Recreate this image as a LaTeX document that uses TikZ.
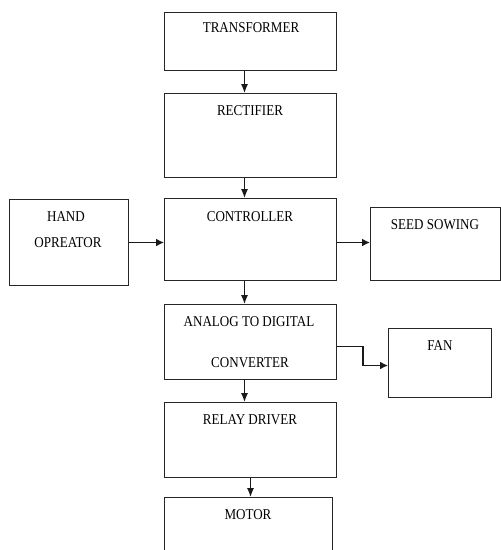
\documentclass[tikz,border=0pt]{standalone}
\usepackage{fontspec}
\setmainfont{Liberation Serif}[FakeStretch=0.87]
\usetikzlibrary{arrows.meta}
\begin{document}
\begin{tikzpicture}[x=1pt,y=-1pt,
  box/.style={draw=black!85, line width=1pt, anchor=north west, inner sep=0pt},
  lbl/.style={font=\fontsize{15}{17}\selectfont, inner sep=0pt, text=black},
  arr/.style={draw=black!90, line width=1.2pt, -{Latex[length=9pt,width=7pt]}},
  harr/.style={arr, line width=1.8pt, -{Latex[length=8pt,width=8pt]}}]
\useasboundingbox (0,0) rectangle (501,550);
\clip (0,0) rectangle (501,550);
\fill[white] (0,0) rectangle (501,550);
% boxes
\node[box, minimum width=172pt, minimum height=58pt] (T) at (164,12) {};
\node[box, minimum width=172pt, minimum height=84pt] (R) at (164,93) {};
\node[box, minimum width=172pt, minimum height=82pt] (C) at (164,198) {};
\node[box, minimum width=119pt, minimum height=86pt] (H) at (9,199) {};
\node[box, minimum width=130pt, minimum height=73pt] (S) at (370,207) {};
\node[box, minimum width=172pt, minimum height=75pt] (A) at (164,304) {};
\node[box, minimum width=103pt, minimum height=69pt] (F) at (388,328) {};
\node[box, minimum width=172pt, minimum height=75pt] (D) at (164,402) {};
\node[box, minimum width=168pt, minimum height=70pt] (M) at (164,497) {};
% labels
\node[lbl] (tT) at (251,28) {TRANSFORMER};
\node[lbl] (tR) at (250,111) {RECTIFIER};
\node[lbl] (tC) at (250,217) {CONTROLLER};
\node[lbl] (tH1) at (66,217) {HAND};
\node[lbl] (tH2) at (68,243) {OPREATOR};
\node[lbl] (tS) at (435,225) {SEED SOWING};
\node[lbl] (tA1) at (249,322) {ANALOG TO DIGITAL};
\node[lbl] (tA2) at (250,363) {CONVERTER};
\node[lbl] (tF) at (440,346) {FAN};
\node[lbl] (tD) at (250,420) {RELAY DRIVER};
\node[lbl] (tM) at (248,515) {MOTOR};
% connectors
\draw[arr] ([xshift=-6pt]T.south) -- ([xshift=-6pt]R.north);
\draw[arr] ([xshift=-6pt]R.south) -- ([xshift=-6pt]C.north);
\draw[arr] ([xshift=-6pt]C.south) -- ([xshift=-6pt]A.north);
\draw[arr] ([xshift=-6pt]A.south) -- ([xshift=-6pt]D.north);
\draw[arr] (D.south) -- (D.south |- M.north);
\draw[harr] (H.east) -- (H.east -| C.west);
\draw[harr] (C.east |- H.east) -- (S.west |- H.east);
\coordinate (a1) at ([yshift=-4.5pt]A.east);
\coordinate (f1) at ([yshift=-2.5pt]F.west);
\draw[harr] (a1) -- ++(26,0) |- (f1);
\end{tikzpicture}
\end{document}
